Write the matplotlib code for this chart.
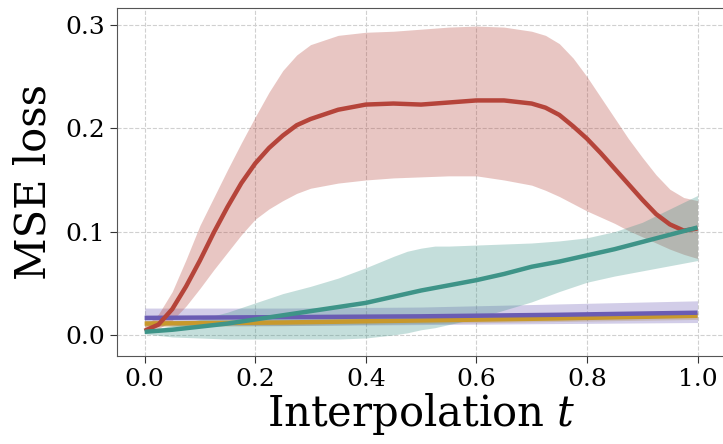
import numpy as np
import matplotlib
matplotlib.use('Agg')
import matplotlib.pyplot as plt

# interpolation steps (red curve)
t_red = [0.0, 0.025, 0.05, 0.075, 0.1, 0.125, 0.15, 0.175, 0.2, 0.225, 0.25, 0.275, 0.3,
         0.35, 0.4, 0.45, 0.5, 0.55, 0.6, 0.65, 0.7, 0.725, 0.75, 0.775, 0.8, 0.825,
         0.85, 0.875, 0.9, 0.925, 0.95, 0.975, 1.0]
red_mean = [0.004, 0.010, 0.025, 0.047, 0.072, 0.099, 0.124, 0.147, 0.166, 0.181, 0.193, 0.203, 0.209,
            0.218, 0.223, 0.224, 0.223, 0.225, 0.227, 0.227, 0.224, 0.220, 0.213, 0.202, 0.190, 0.176,
            0.161, 0.146, 0.131, 0.117, 0.107, 0.101, 0.103]
red_hi = [0.008, 0.020, 0.042, 0.073, 0.106, 0.133, 0.160, 0.186, 0.211, 0.235, 0.256, 0.271, 0.281,
          0.290, 0.293, 0.294, 0.296, 0.298, 0.299, 0.298, 0.294, 0.290, 0.282, 0.268, 0.250, 0.230,
          0.210, 0.190, 0.172, 0.155, 0.141, 0.133, 0.130]
red_lo = [0.002, 0.006, 0.014, 0.028, 0.045, 0.063, 0.080, 0.097, 0.112, 0.122, 0.130, 0.137, 0.142,
          0.147, 0.150, 0.152, 0.153, 0.154, 0.154, 0.150, 0.145, 0.140, 0.134, 0.127, 0.120, 0.114,
          0.108, 0.101, 0.095, 0.089, 0.083, 0.078, 0.074]

# teal curve
t_teal = [0.0, 0.05, 0.1, 0.15, 0.2, 0.25, 0.3, 0.35, 0.4, 0.45, 0.475, 0.5, 0.525,
          0.55, 0.6, 0.65, 0.7, 0.75, 0.8, 0.85, 0.9, 0.95, 1.0]
teal_mean = [0.003, 0.005, 0.008, 0.011, 0.015, 0.019, 0.023, 0.027, 0.031, 0.037, 0.040, 0.043, 0.0455,
             0.048, 0.053, 0.059, 0.066, 0.071, 0.077, 0.083, 0.090, 0.097, 0.104]
teal_hi = [0.004, 0.009, 0.015, 0.022, 0.031, 0.040, 0.047, 0.055, 0.065, 0.076, 0.081, 0.084, 0.086,
           0.086, 0.087, 0.088, 0.089, 0.091, 0.094, 0.100, 0.109, 0.122, 0.135]
teal_lo = [0.001, -0.002, -0.003, -0.004, -0.004, -0.004, -0.004, -0.004, -0.003, 0.000, 0.002, 0.005, 0.007,
           0.010, 0.016, 0.024, 0.032, 0.042, 0.051, 0.057, 0.062, 0.067, 0.072]

# the two flat curves
t_flat = [0.0, 0.25, 0.5, 0.75, 1.0]
purple_mean = [0.0165, 0.0172, 0.018, 0.0195, 0.0215]
purple_hi = [0.026, 0.026, 0.027, 0.030, 0.033]
purple_lo = [0.009, 0.009, 0.010, 0.011, 0.012]

gold_mean = [0.011, 0.012, 0.014, 0.016, 0.0185]
gold_hi = [0.014, 0.015, 0.017, 0.019, 0.022]
gold_lo = [0.008, 0.009, 0.011, 0.013, 0.015]

c_red = '#b5443a'
c_teal = '#3e9488'
c_purple = '#6a5cb3'
c_gold = '#c8992c'

plt.rcParams['font.family'] = 'DejaVu Serif'
plt.rcParams['mathtext.fontset'] = 'dejavuserif'

fig = plt.figure(figsize=(7.23, 4.44), dpi=100)
ax = fig.add_axes([0.1618, 0.198, 0.8412, 0.784])

ax.fill_between(t_flat, gold_lo, gold_hi, color=c_gold, alpha=0.3, lw=0)
ax.fill_between(t_flat, purple_lo, purple_hi, color=c_purple, alpha=0.3, lw=0)
ax.fill_between(t_red, red_lo, red_hi, color=c_red, alpha=0.3, lw=0)
ax.fill_between(t_teal, teal_lo, teal_hi, color=c_teal, alpha=0.3, lw=0)

ax.plot(t_flat, gold_mean, color=c_gold, lw=3.2, solid_capstyle='butt')
ax.plot(t_flat, purple_mean, color=c_purple, lw=3.2, solid_capstyle='butt')
ax.plot(t_red, red_mean, color=c_red, lw=3.2, solid_capstyle='butt')
ax.plot(t_teal, teal_mean, color=c_teal, lw=3.2, solid_capstyle='butt')

ax.set_xlim(-0.05, 1.05)
ax.set_ylim(-0.0205, 0.3165)
ax.set_xticks([0.0, 0.2, 0.4, 0.6, 0.8, 1.0])
ax.set_yticks([0.0, 0.1, 0.2, 0.3])
ax.grid(True, color='#d0d0d0', linestyle='--', linewidth=0.8)
ax.set_axisbelow(True)
ax.tick_params(labelsize=18, length=5, color='#333333')
for s in ax.spines.values():
    s.set_color('#555555')

ax.set_xlabel('Interpolation $t$', fontsize=30, labelpad=0)
ax.set_ylabel('MSE loss', fontsize=30, labelpad=8)

fig.savefig('out.png', dpi=100)
